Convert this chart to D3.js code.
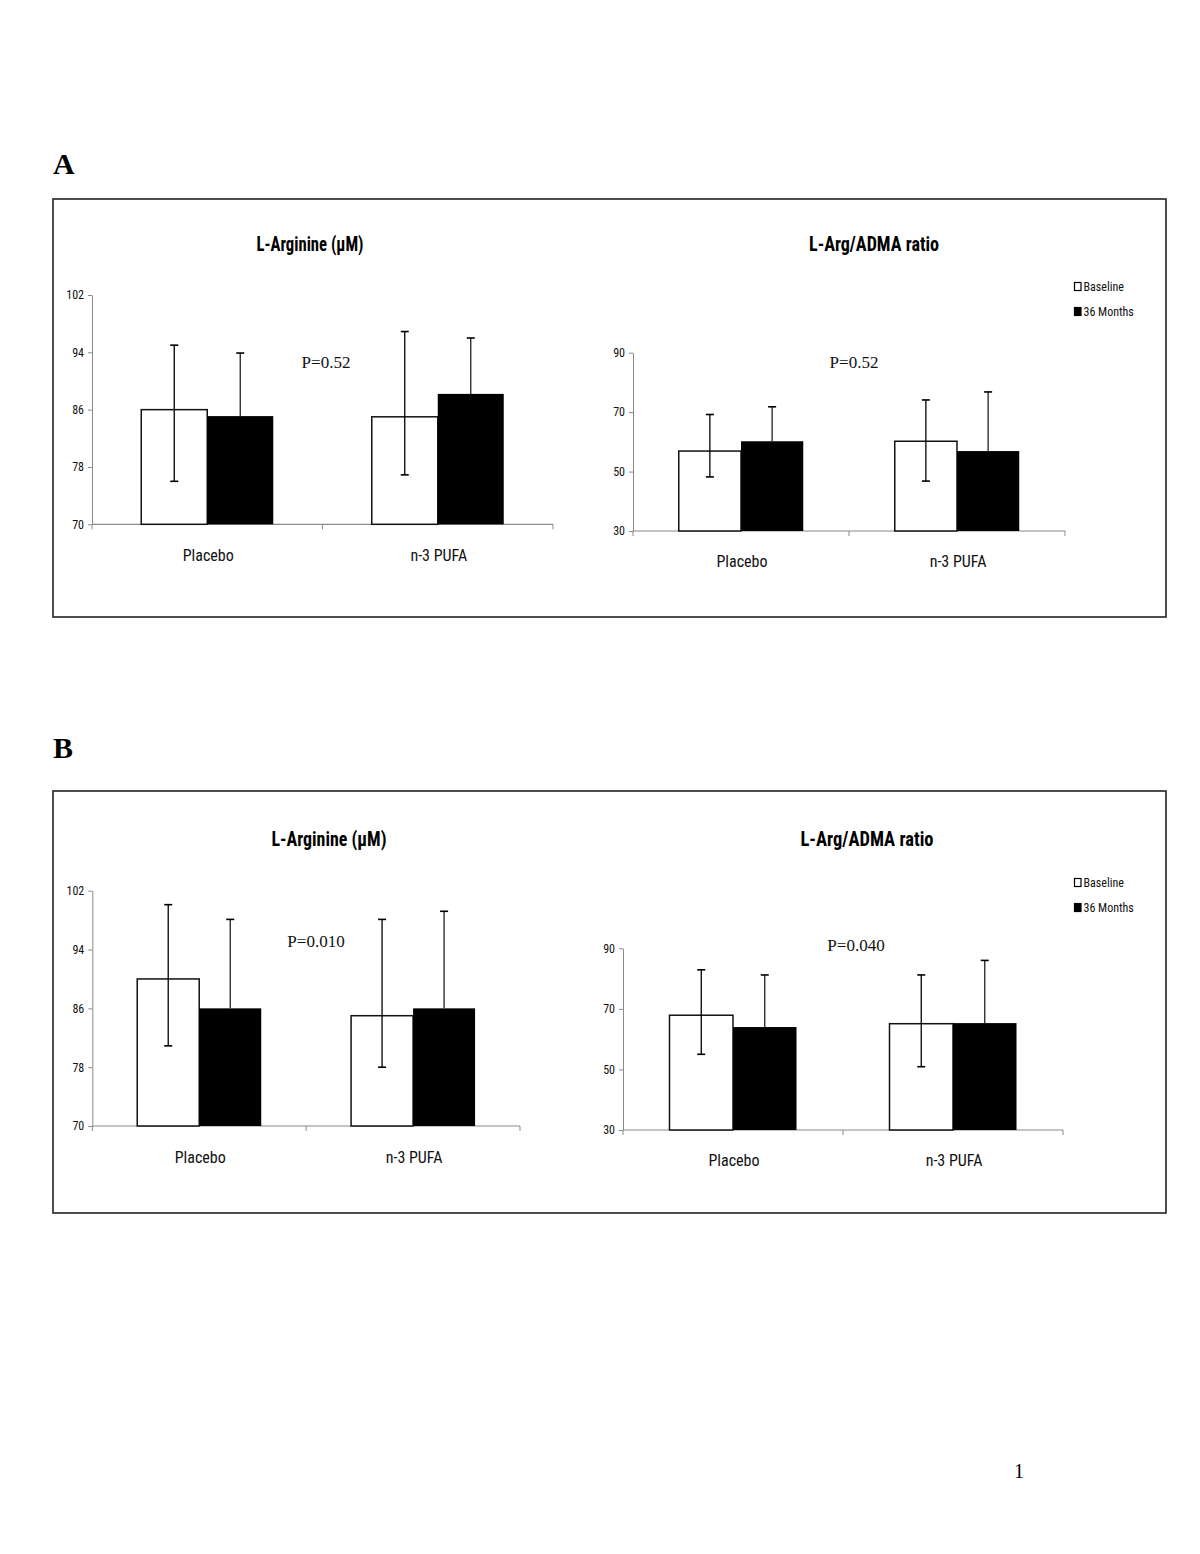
<!DOCTYPE html>
<html>
<head>
<meta charset="utf-8">
<script src="https://cdn.jsdelivr.net/npm/d3@7"></script>
<style>
  html, body { margin: 0; padding: 0; background: #fff; }
  svg { display: block; }
</style>
</head>
<body>
<svg id="chart" width="1200" height="1554"></svg>
<script>
// ---------------- DATA ----------------
const categories = ["Placebo", "n-3 PUFA"];
const series = ["Baseline", "36 Months"];

const argTicks = [70, 78, 86, 94, 102];
const ratioTicks = [30, 50, 70, 90];

// Panel A – L-Arginine (µM)
const aArgBaseline      = [86.0, 85.0];
const aArgBaselineHi    = [95.0, 96.9];
const aArgBaselineLo    = [76.0, 76.9];
const aArg36            = [85.1, 88.2];
const aArg36Hi          = [93.9, 96.0];

// Panel A – L-Arg/ADMA ratio
const aRatioBaseline    = [56.9, 60.2];
const aRatioBaselineHi  = [69.2, 74.1];
const aRatioBaselineLo  = [48.2, 46.8];
const aRatio36          = [60.2, 56.9];
const aRatio36Hi        = [71.8, 76.8];

// Panel B – L-Arginine (µM)
const bArgBaseline      = [90.0, 85.0];
const bArgBaselineHi    = [100.1, 98.1];
const bArgBaselineLo    = [80.9, 78.0];
const bArg36            = [86.0, 86.0];
const bArg36Hi          = [98.1, 99.2];

// Panel B – L-Arg/ADMA ratio
const bRatioBaseline    = [67.9, 65.1];
const bRatioBaselineHi  = [82.9, 81.2];
const bRatioBaselineLo  = [55.0, 50.9];
const bRatio36          = [64.0, 65.3];
const bRatio36Hi        = [81.2, 86.0];

const pA = "P=0.52";
const pB1 = "P=0.010";
const pB2 = "P=0.040";
const titleArg = "L-Arginine (\u00b5M)";
const titleRatio = "L-Arg/ADMA ratio";

// ---------------- LAYOUT ----------------
const svg = d3.select("#chart");
const narrow = "'Liberation Sans Narrow', 'Arial Narrow', 'Roboto Condensed', sans-serif";
const serif = "'Liberation Serif', 'Times New Roman', 'DejaVu Serif', serif";

function drawChart(cfg) {
  const g = svg.append("g");
  const x0 = d3.scaleBand().domain(categories).range([cfg.x0, cfg.x1]).paddingInner(0).paddingOuter(0);
  const x1 = d3.scaleBand().domain(series).range([0, cfg.groupW]);
  const y = d3.scaleLinear().domain(cfg.domain).range([cfg.yBottom, cfg.yTop]);
  const gOff = (x0.bandwidth() - cfg.groupW) / 2;

  // y axis
  const yAxis = d3.axisLeft(y).tickValues(cfg.ticks).tickSize(4).tickPadding(4).tickSizeOuter(0);
  const ya = g.append("g").attr("transform", `translate(${cfg.x0},0)`).call(yAxis);
  ya.select(".domain").attr("stroke", "#8a8a8a").attr("stroke-width", 1);
  ya.selectAll(".tick line").attr("stroke", "#8a8a8a");
  ya.selectAll(".tick text").attr("font-family", narrow).attr("font-size", 12).attr("fill", "#111");

  // x axis
  const xa = g.append("g").attr("transform", `translate(0,${cfg.yBottom})`);
  xa.append("line").attr("x1", cfg.x0).attr("x2", cfg.x1).attr("stroke", "#8a8a8a").attr("stroke-width", 1.2);
  const tickXs = [x0.range()[0], x0(categories[1]), x0.range()[1]];
  xa.selectAll("line.tk").data(tickXs).enter().append("line").attr("class", "tk")
    .attr("x1", d => d).attr("x2", d => d).attr("y1", 0).attr("y2", 5).attr("stroke", "#8a8a8a");
  xa.selectAll("text.cat").data(categories).enter().append("text").attr("class", "cat")
    .attr("x", d => x0(d) + x0.bandwidth() / 2 + 1)
    .attr("y", cfg.catDy)
    .attr("text-anchor", "middle")
    .attr("font-family", narrow).attr("font-size", 16).attr("fill", "#111")
    .text(d => d);

  // bars
  const rows = categories.map((c, i) => ({
    cat: c,
    base: cfg.base[i], baseHi: cfg.baseHi[i], baseLo: cfg.baseLo[i],
    m36: cfg.m36[i], m36Hi: cfg.m36Hi[i]
  }));
  const grp = g.selectAll("g.grp").data(rows).enter().append("g")
    .attr("transform", d => `translate(${x0(d.cat) + gOff},0)`);

  grp.append("rect")
    .attr("x", x1(series[0])).attr("width", x1.bandwidth())
    .attr("y", d => y(d.base)).attr("height", d => y(cfg.domain[0]) - y(d.base))
    .attr("fill", "#fff").attr("stroke", "#111").attr("stroke-width", 1.5);
  grp.append("rect")
    .attr("x", x1(series[1])).attr("width", x1.bandwidth())
    .attr("y", d => y(d.m36)).attr("height", d => y(cfg.domain[0]) - y(d.m36))
    .attr("fill", "#000");

  // error bars
  const cap = 4;
  const cxB = x1(series[0]) + x1.bandwidth() / 2;
  const cxM = x1(series[1]) + x1.bandwidth() / 2;
  grp.append("line").attr("x1", cxB).attr("x2", cxB)
    .attr("y1", d => y(d.baseLo)).attr("y2", d => y(d.baseHi)).attr("stroke", "#000").attr("stroke-width", 1.3);
  grp.append("line").attr("x1", cxB - cap).attr("x2", cxB + cap)
    .attr("y1", d => y(d.baseHi)).attr("y2", d => y(d.baseHi)).attr("stroke", "#000").attr("stroke-width", 1.6);
  grp.append("line").attr("x1", cxB - cap).attr("x2", cxB + cap)
    .attr("y1", d => y(d.baseLo)).attr("y2", d => y(d.baseLo)).attr("stroke", "#000").attr("stroke-width", 1.6);
  grp.append("line").attr("x1", cxM).attr("x2", cxM)
    .attr("y1", d => y(d.m36)).attr("y2", d => y(d.m36Hi)).attr("stroke", "#222").attr("stroke-width", 1.3);
  grp.append("line").attr("x1", cxM - cap).attr("x2", cxM + cap)
    .attr("y1", d => y(d.m36Hi)).attr("y2", d => y(d.m36Hi)).attr("stroke", "#000").attr("stroke-width", 1.6);

  // title
  g.append("text").attr("x", cfg.titleX).attr("y", cfg.titleY).attr("text-anchor", "middle")
    .attr("font-family", narrow).attr("font-weight", "bold").attr("font-size", 20).attr("fill", "#000")
    .attr("textLength", cfg.titleW).attr("lengthAdjust", "spacingAndGlyphs")
    .text(cfg.title);
  // p value
  g.append("text").attr("x", cfg.pX).attr("y", cfg.pY).attr("text-anchor", "middle")
    .attr("font-family", serif).attr("font-size", 17).attr("fill", "#111")
    .text(cfg.p);

  // legend
  if (cfg.legend) {
    const lg = g.append("g").attr("transform", `translate(${cfg.legend[0]},${cfg.legend[1]})`);
    const items = lg.selectAll("g").data(series).enter().append("g")
      .attr("transform", (d, i) => `translate(0,${i * 25})`);
    items.append("rect").attr("x", 0.5).attr("y", -8.5).attr("width", 6.5).attr("height", 8)
      .attr("fill", (d, i) => i === 0 ? "#fff" : "#000").attr("stroke", "#000").attr("stroke-width", 1.2);
    items.append("text").attr("x", 9.5).attr("y", 0)
      .attr("font-family", narrow).attr("font-size", 12).attr("fill", "#111").text(d => d);
  }
}

function drawPanel(letter, letterY, box) {
  svg.append("text").attr("x", 53).attr("y", letterY)
    .attr("font-family", serif).attr("font-weight", "bold").attr("font-size", 30).attr("fill", "#000")
    .text(letter);
  svg.append("rect").attr("x", box[0]).attr("y", box[1]).attr("width", box[2] - box[0]).attr("height", box[3] - box[1])
    .attr("fill", "none").attr("stroke", "#222").attr("stroke-width", 1.6);
}

drawPanel("A", 174, [53, 199, 1166, 617]);
drawPanel("B", 758, [53, 791, 1166, 1213]);

drawChart({
  x0: 92, x1: 553, yTop: 295, yBottom: 524.3, domain: [70, 102], ticks: argTicks, groupW: 132,
  base: aArgBaseline, baseHi: aArgBaselineHi, baseLo: aArgBaselineLo, m36: aArg36, m36Hi: aArg36Hi,
  title: titleArg, titleW: 107, titleX: 310, titleY: 251, p: pA, pX: 326, pY: 368, catDy: 37
});
drawChart({
  x0: 633, x1: 1065, yTop: 352.7, yBottom: 531, domain: [30, 90], ticks: ratioTicks, groupW: 124.5,
  base: aRatioBaseline, baseHi: aRatioBaselineHi, baseLo: aRatioBaselineLo, m36: aRatio36, m36Hi: aRatio36Hi,
  title: titleRatio, titleW: 130, titleX: 874, titleY: 251, p: pA, pX: 854, pY: 368, catDy: 36,
  legend: [1074, 291]
});
drawChart({
  x0: 92.3, x1: 520, yTop: 890.7, yBottom: 1126, domain: [70, 102], ticks: argTicks, groupW: 124,
  base: bArgBaseline, baseHi: bArgBaselineHi, baseLo: bArgBaselineLo, m36: bArg36, m36Hi: bArg36Hi,
  title: titleArg, titleW: 115, titleX: 329, titleY: 846, p: pB1, pX: 316, pY: 947, catDy: 37
});
drawChart({
  x0: 623, x1: 1063, yTop: 948.3, yBottom: 1130, domain: [30, 90], ticks: ratioTicks, groupW: 127,
  base: bRatioBaseline, baseHi: bRatioBaselineHi, baseLo: bRatioBaselineLo, m36: bRatio36, m36Hi: bRatio36Hi,
  title: titleRatio, titleW: 133, titleX: 867, titleY: 846, p: pB2, pX: 856, pY: 951, catDy: 36,
  legend: [1074, 887]
});

// page number
svg.append("text").attr("x", 1019).attr("y", 1478).attr("text-anchor", "middle")
  .attr("font-family", serif).attr("font-size", 20).attr("fill", "#000").text("1");
</script>
</body>
</html>
